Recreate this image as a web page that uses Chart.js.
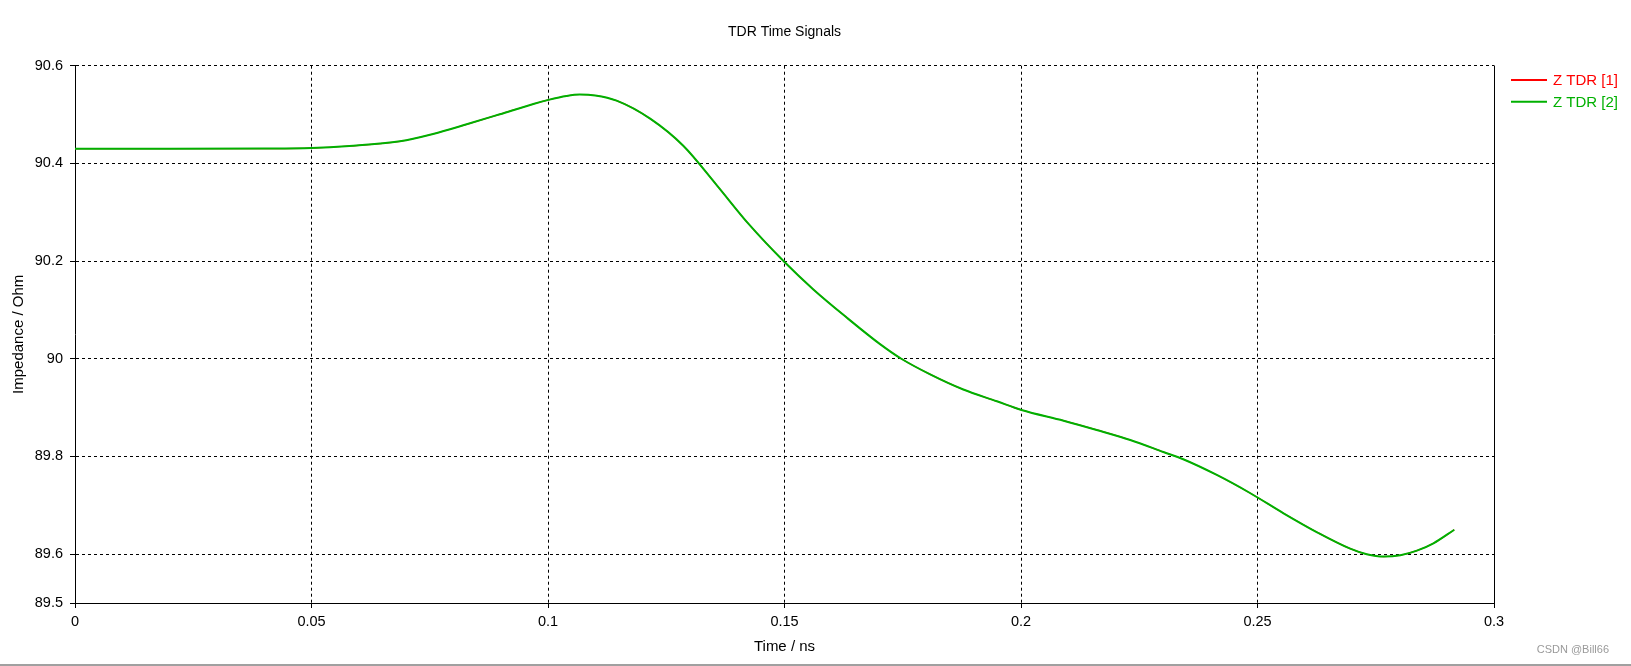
<!DOCTYPE html>
<html>
<head>
<meta charset="utf-8">
<title>TDR Time Signals</title>
<script src="https://cdn.jsdelivr.net/npm/chart.js@4.4.1/dist/chart.umd.min.js"></script>
<style>
  html, body { margin: 0; padding: 0; background: #fff; }
  canvas { display: block; }
</style>
</head>
<body>
<canvas id="tdrChart" width="1631" height="666"></canvas>
<script>
'use strict'

// time axis (ns) and impedance (Ohm)
const timeNs = [0, 0.02, 0.04, 0.05, 0.058, 0.0687, 0.0757, 0.0828, 0.0898, 0.0969,
  0.1001, 0.1039, 0.1067, 0.110, 0.1145, 0.1216, 0.1286, 0.1357, 0.1425, 0.150,
  0.1561, 0.1632, 0.1702, 0.1747, 0.1808, 0.1878, 0.1949, 0.2001, 0.209, 0.216,
  0.2231, 0.2301, 0.2343, 0.2414, 0.2485, 0.2555, 0.2626, 0.2696, 0.2731, 0.2767,
  0.2802, 0.2837, 0.2872, 0.2916];

const zTdr2 = [90.430, 90.430, 90.4303, 90.4314, 90.4356, 90.4452, 90.4602, 90.480, 90.5005, 90.5216,
  90.530, 90.538, 90.541, 90.539, 90.5284, 90.4915, 90.436, 90.355, 90.275, 90.198,
  90.142, 90.084, 90.030, 90.000, 89.968, 89.937, 89.913, 89.8952, 89.8733, 89.8543,
  89.8338, 89.8092, 89.7943, 89.7621, 89.7247, 89.6837, 89.6448, 89.6113, 89.5998, 89.595,
  89.5978, 89.6072, 89.6223, 89.650];

// [1] lies right under [2] in the picture
const zTdr1 = zTdr2.slice();

const seriesNames = ['Z TDR [1]', 'Z TDR [2]'];
const seriesColors = ['#ff0000', '#00b000'];

const xTicks = [0, 0.05, 0.1, 0.15, 0.2, 0.25, 0.3];
const yTicks = [89.5, 89.6, 89.8, 90, 90.2, 90.4, 90.6];

const FONT = "'Liberation Sans', Arial, sans-serif";
Chart.defaults.color = '#000';
Chart.defaults.font.family = FONT;

const toPoints = (vals) => vals.map((v, i) => ({x: timeNs[i], y: v}));
const fmt = (v) => String(+v.toFixed(3));

// legend, right border, watermark and bottom rule
const extras = {
  id: 'extras',
  afterDraw(chart) {
    const ctx = chart.ctx;
    const area = chart.chartArea;
    ctx.save();
    ctx.strokeStyle = '#000';
    ctx.lineWidth = 1;
    ctx.beginPath();
    ctx.moveTo(Math.round(area.right) + 0.5, area.top);
    ctx.lineTo(Math.round(area.right) + 0.5, area.bottom);
    ctx.stroke();

    chart.data.datasets.forEach((ds, i) => {
      const y = 80 + i * 21.7;
      ctx.strokeStyle = ds.borderColor;
      ctx.lineWidth = 2;
      ctx.beginPath();
      ctx.moveTo(1511, y);
      ctx.lineTo(1547, y);
      ctx.stroke();
      ctx.fillStyle = ds.borderColor;
      ctx.font = '15px ' + FONT;
      ctx.textBaseline = 'middle';
      ctx.textAlign = 'left';
      ctx.fillText(ds.label, 1553, y + 1);
    });

    ctx.fillStyle = '#9a9a9a';
    ctx.font = '11px ' + FONT;
    ctx.textAlign = 'right';
    ctx.textBaseline = 'middle';
    ctx.fillText('CSDN @Bill66', 1609, 650);

    ctx.fillStyle = '#a0a0a0';
    ctx.fillRect(0, 664, chart.width, 2);
    ctx.restore();
  }
};

const data = {
  datasets: [
    {
      label: seriesNames[0],
      data: toPoints(zTdr1),
      borderColor: seriesColors[0],
      borderWidth: 1.2,
      pointRadius: 0,
      cubicInterpolationMode: 'monotone',
      order: 1
    },
    {
      label: seriesNames[1],
      data: toPoints(zTdr2),
      borderColor: seriesColors[1],
      borderWidth: 2,
      pointRadius: 0,
      cubicInterpolationMode: 'monotone',
      order: 0
    }
  ]
};

const config = {
  type: 'line',
  data,
  plugins: [extras],
  options: {
    responsive: false,
    animation: false,
    devicePixelRatio: 1,
    layout: { padding: { left: 0, right: 137, top: 0, bottom: 0 } },
    plugins: {
      legend: { display: false },
      tooltip: { enabled: false },
      title: {
        display: true,
        text: 'TDR Time Signals',
        fullSize: false,
        color: '#000',
        font: { size: 14, weight: 'normal' },
        padding: { top: 23.6, bottom: 25.3 }
      }
    },
    scales: {
      x: {
        type: 'linear',
        min: 0,
        max: 0.3,
        afterBuildTicks: (scale) => { scale.ticks = xTicks.map(v => ({value: v})); },
        afterFit: (scale) => { scale.height = 63; },
        ticks: { callback: fmt, padding: 5, maxRotation: 0, font: { size: 14.5 } },
        grid: { color: '#000', lineWidth: 1, tickLength: 5, tickColor: '#000' },
        border: { display: true, color: '#000', width: 1, dash: [3, 3] },
        title: { display: true, text: 'Time / ns', font: { size: 15 }, padding: { top: 0, bottom: 10 } }
      },
      y: {
        min: 89.5,
        max: 90.6,
        afterBuildTicks: (scale) => { scale.ticks = yTicks.map(v => ({value: v})); },
        afterFit: (scale) => { scale.width = 75; },
        ticks: { callback: fmt, padding: 7, font: { size: 14.5 } },
        grid: { color: '#000', lineWidth: 1, tickLength: 5, tickColor: '#000' },
        border: { display: true, color: '#000', width: 1, dash: [3, 3] },
        title: { display: true, text: 'Impedance / Ohm', font: { size: 15 }, padding: { top: 10, bottom: 0 } }
      }
    }
  }
};

const tdrChart = new Chart(document.getElementById('tdrChart'), config);
</script>
</body>
</html>
